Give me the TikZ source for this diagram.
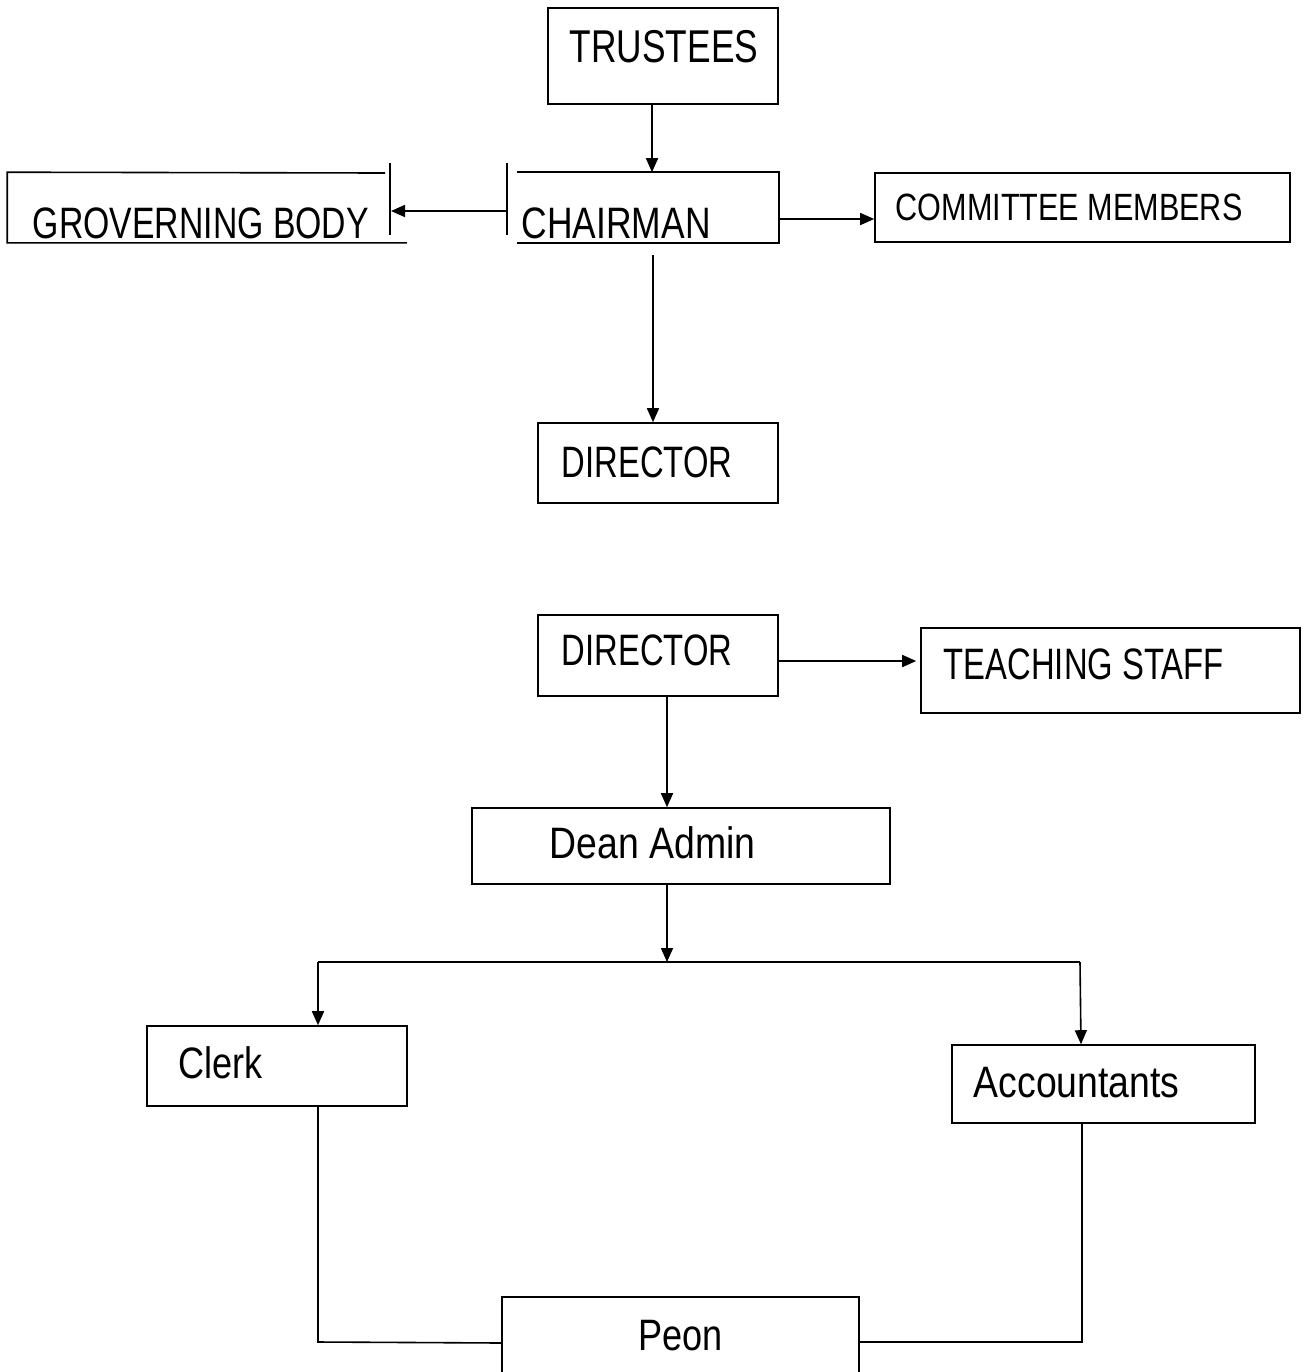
\documentclass[tikz,border=0pt]{standalone}
\usepackage{fontspec}
\setmainfont[FakeStretch=0.82]{Liberation Sans}
\newfontfamily\fA[FakeStretch=0.745]{Liberation Sans}
\newfontfamily\fB[FakeStretch=0.768]{Liberation Sans}
\newfontfamily\fC[FakeStretch=0.805]{Liberation Sans}
\newfontfamily\fD[FakeStretch=0.85]{Liberation Sans}
\usetikzlibrary{arrows.meta,fit}
\begin{document}
\begin{tikzpicture}[x=0.5pt,y=-0.5pt,line width=0.8pt,
  box/.style={draw,rectangle,inner sep=0pt},
  frame/.style={rectangle,inner sep=0pt},
  lbl/.style={anchor=base west,inner sep=0pt,font=\fontsize{22}{26}\selectfont},
  lblbig/.style={lbl,font=\fontsize{23}{27}\selectfont},
  lblsmall/.style={lbl,font=\fontsize{19}{23}\selectfont},
  arr/.style={-{Triangle[length=7pt,width=6pt]}}]
\useasboundingbox (0,0) rectangle (1305,1372);

% boxes
\node[box,fit={(548,8) (778,104)}] (trust) {};
\node[frame,fit={(518,173) (778,242)}] (chair) {};
\node[frame,fit={(8,173) (406,242)}] (gov) {};
\node[box,fit={(875,173) (1290,242)}] (comm) {};
\node[box,fit={(538,423) (778,503)}] (dirA) {};
\node[box,fit={(538,615) (778,696)}] (dirB) {};
\node[box,fit={(921,628) (1300,713)}] (teach) {};
\node[box,fit={(472,808) (890,884)}] (dean) {};
\node[box,fit={(147,1026) (407,1106)}] (clerk) {};
\node[box,fit={(952,1045) (1255,1123)}] (acc) {};
\node[frame,fit={(503,1298) (858,1372)}] (peon) {};

% partial outlines
\draw (chair.north west) -- (chair.north east) -- (chair.south east) -- (chair.south west);
\draw (385,173) -- (gov.north west) -- (gov.south west) -- (gov.south east);
\draw (peon.south west) -- (peon.north west) -- (peon.north east) -- (peon.south east);
\coordinate (chbarT) at (507,163); \coordinate (chbarB) at (507,235);
\coordinate (gvbarT) at (390,163); \coordinate (gvbarB) at (390,235);
\draw (chbarT) -- (chbarB);
\draw (gvbarT) -- (gvbarB);

% texts
\node[lblbig] (tTrust) at (569,62) {\fB TRUSTEES};
\node[lbl] (tGov) at (32,238) {\fB GROVERNING BODY};
\node[lbl] (tChair) at (521,238) {\fC CHAIRMAN};
\node[lblsmall] (tComm) at (895,220) {\fC COMMITTEE MEMBERS};
\node[lbl] (tDirA) at (561,477) {\fA DIRECTOR};
\node[lbl] (tDirB) at (561,665) {\fA DIRECTOR};
\node[lbl] (tTeach) at (943,679) {\fA TEACHING STAFF};
\node[lbl] (tDean) at (549,858) {\fD Dean Admin};
\node[lbl] (tClerk) at (178,1078) {Clerk};
\node[lbl] (tAcc) at (973,1097) {\fD Accountants};
\node[lbl] (tPeon) at (638,1350) {Peon};

% connectors
\draw[arr] (652,0 |- trust.south) -- (652,0 |- chair.north);
\draw[arr] (507,211) -- (391,211);
\draw[arr] (chair.east |- 0,219) -- (comm.west |- 0,219);
\draw[arr] (653,255) -- (653,0 |- dirA.north);
\draw[arr,shorten >=2pt] (dirB.east |- 0,661) -- (teach.west |- 0,661);
\draw[arr] (667,0 |- dirB.south) -- (667,0 |- dean.north);
\coordinate (br) at (667,962);
\coordinate (brL) at (318,962);
\coordinate (brR) at (1080,962);
\draw[arr] (667,0 |- dean.south) -- (br);
\draw (brL) -- (brR);
\draw[arr] (brL) -- (318,0 |- clerk.north);
\draw[arr] (brR) -- (1081,0 |- acc.north);
\draw (318,0 |- clerk.south) -- (318,1342) -- (peon.west |- 0,1343);
\draw (1082,0 |- acc.south) -- (1082,1342) -- (peon.east |- 0,1342);
\end{tikzpicture}
\end{document}
